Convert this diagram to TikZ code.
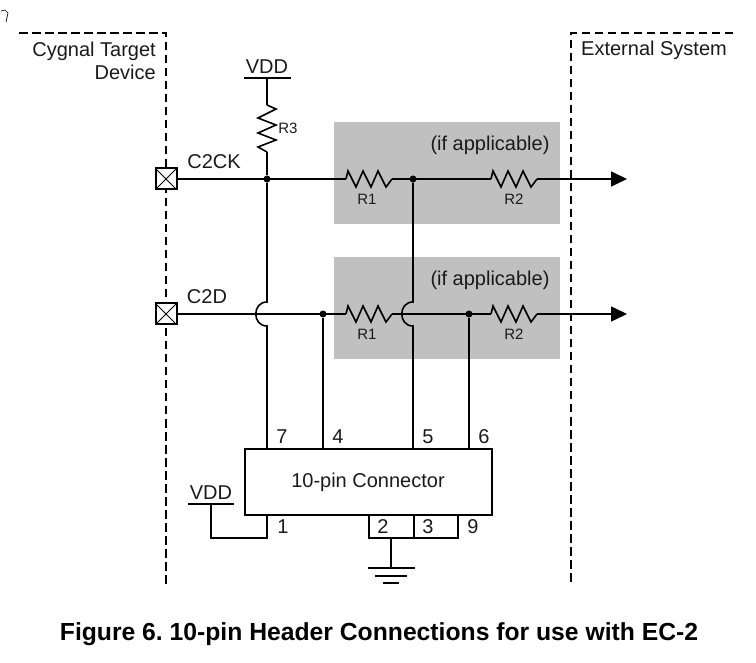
\documentclass[tikz,border=0pt]{standalone}
\usepackage{fontspec}
\setmainfont{Liberation Sans}
\usetikzlibrary{%
    arrows.meta,
    calc,
    positioning
}
\definecolor{optgray}{HTML}{C0C0C0}
\definecolor{inkgray}{HTML}{1A1A1A}
\tikzset{
    wire/.style = {line width=1.6pt,black},
    rail/.style = {line width=2pt,black},
    border/.style = {line width=2pt,dash pattern=on 8.5pt off 4.5pt},
    dot/.style = {circle,fill=black,inner sep=0pt,minimum size=7pt},
    pad/.style = {draw,line width=2pt,fill=white,minimum size=21pt,inner sep=0pt,
        path picture={
            \draw[line width=1pt] (path picture bounding box.north west) -- (path picture bounding box.south east);
            \draw[line width=1pt] (path picture bounding box.north east) -- (path picture bounding box.south west);
        }},
    optbox/.style = {fill=optgray,minimum width=226pt,minimum height=102pt,inner sep=0pt},
    lbl/.style = {inner sep=0pt,text=inkgray,font=\fontsize{20}{22}\selectfont},
    small/.style = {inner sep=0pt,text=inkgray,font=\fontsize{15}{17}\selectfont},
    zag/.pic = {\draw[wire] (0,0) -- (2,-8) -- (10,8) -- (17,-8) -- (25,8) -- (32,-8) -- (40,8) -- (46,0);},
    zagdown/.pic = {\draw[wire] (0,0) -- (9,4) -- (-9,13) -- (9,20) -- (-9,28) -- (9,35) -- (-9,42) -- (0,47);}
}

\begin{document}
\begin{tikzpicture}[x=1pt,y=-1pt]
    \useasboundingbox (0,0) rectangle (756,663);

    \node[optbox] (opt-0) at (447,173) {};
    \node[optbox] (opt-1) at (447,308) {};
    \foreach \n in {0,1}
        \node[lbl] (if-\n) at ($(opt-\n.north)+(43,24)$) {(if applicable)};

    \draw[line width=.7pt] (1,11) -- (5,10) -- (8,13) -- (6,22);

    \draw[border] (19,33) -- (166,33) -- (166,585);
    \draw[border] (733,33) -- (571,33) -- (571,585);
    \node[lbl,align=right,anchor=east] (target) at (156,61) {Cygnal Target\\[1pt]Device};
    \node[lbl] (external) at (654,50) {External System};

    % signal rows
    \foreach \n/\y/\Label/\lx in {0/179/C2CK/214,1/314/C2D/207}
        {
        \node[pad] (pad-\n) at (166,\y) {};
        \node[lbl] (sig-\n) at (\lx,\y-17) {\Label};
        \coordinate (r1l-\n) at (346,\y);
        \coordinate (r1r-\n) at (392,\y);
        \coordinate (r2l-\n) at (491,\y);
        \coordinate (r2r-\n) at (537,\y);
        \coordinate (tip-\n) at (627,\y);
        \pic at (r1l-\n) {zag};
        \pic at (r2l-\n) {zag};
        \node[small] (r1-\n) at (367,\y+20) {R1};
        \node[small] (r2-\n) at (514,\y+20) {R2};
        \draw[wire] (pad-\n) -- (r1l-\n);
        \draw[wire] (r1r-\n) -- (r2l-\n);
        \draw[wire,-{Triangle[length=16pt,width=15pt]}] (r2r-\n) -- (tip-\n);
        }

    % connector
    \node[draw,line width=2pt,minimum width=247pt,minimum height=66pt,inner sep=0pt] (conn) at (368,481.5) {};
    \node[lbl] (conn-text) at (368,482.5) {10-pin Connector};

    \coordinate (vdd-top) at (267,78);
    \coordinate (r3t) at (267,105);
    \coordinate (r3b) at (267,152);
    \node[dot] (j-ck) at (267,179) {};
    \node[dot] (j-mid) at (413,179) {};
    \node[dot] (j-d) at (323,314) {};
    \node[dot] (j-out) at (469,314) {};

    \draw[rail] (244,78) -- (291,78);
    \node[lbl] (vdd-0) at (267,66.5) {VDD};
    \draw[wire] (vdd-top) -- (r3t);
    \pic at (r3t) {zagdown};
    \node[small] (r3) at (288,128) {R3};
    \draw[wire] (r3b) -- (j-ck);

    \foreach \from/\x/\pin/\Label in {j-ck/267/p7/7,j-mid/413/p5/5}
        {
        \coordinate (\pin-a) at (\x,302);
        \coordinate (\pin-b) at (\x,326);
        \coordinate (\pin) at (\x,448);
        \draw[wire] (\from) -- (\pin-a) .. controls +(-15,0) and +(-15,0) .. (\pin-b) -- (\pin);
        \node[lbl] (num-\Label) at (\x+15,437) {\Label};
        }
    \foreach \from/\x/\pin/\Label in {j-d/323/p4/4,j-out/469/p6/6}
        {
        \coordinate (\pin) at (\x,448);
        \draw[wire] (\from) -- (\pin);
        \node[lbl] (num-\Label) at (\x+15,437) {\Label};
        }

    % bottom pins
    \coordinate (p1) at (267,515);
    \coordinate (p1c) at (267,538);
    \coordinate (p1v) at (211,538);
    \coordinate (vdd-low) at (211,504);
    \draw[rail] (p1) -- (p1c) -- (p1v) -- (vdd-low);
    \draw[rail] (188,504) -- (234,504);
    \node[lbl] (vdd-1) at (211,492.5) {VDD};

    \coordinate (p2) at (369,515);
    \coordinate (p3) at (414,515);
    \coordinate (p9) at (458,515);
    \coordinate (p2c) at (369,538);
    \coordinate (p9c) at (458,538);
    \coordinate (p3c) at (414,538);
    \coordinate (gnd-in) at (391,538);
    \coordinate (gnd) at (391,568);
    \draw[rail] (p2) -- (p2c) -- (p9c) -- (p9);
    \draw[rail] (p3) -- (p3c);
    \draw[rail] (gnd-in) -- (gnd);
    \draw[rail] (368,568) -- (415,568);
    \draw[rail] (375,575.5) -- (407,575.5);
    \draw[rail] (383,583) -- (399,583);
    \foreach \Label/\x in {1/283,2/383,3/428,9/473}
        \node[lbl] (num-\Label) at (\x,526.5) {\Label};

    \node[inner sep=0pt,font=\fontsize{24.7}{26}\bfseries\selectfont] (caption) at (379,634) {\frenchspacing Figure 6. 10-pin Header Connections for use with EC-2};
\end{tikzpicture}
\end{document}
